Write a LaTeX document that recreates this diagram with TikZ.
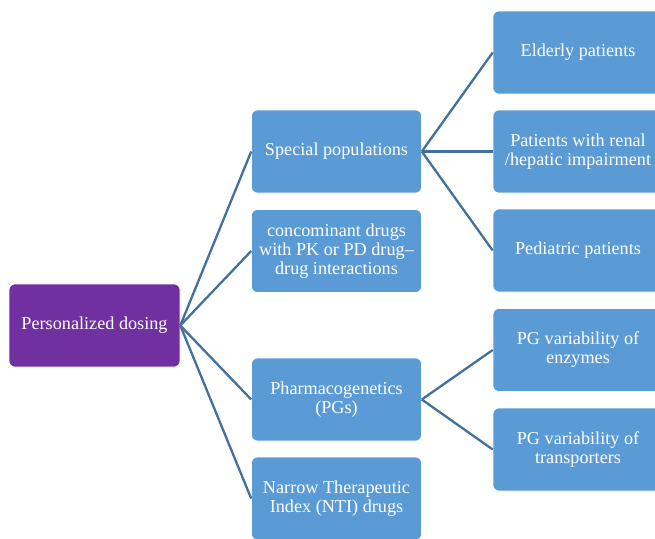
\documentclass[tikz,border=0pt]{standalone}
\usepackage{fontspec}
\setmainfont{Liberation Serif}
\definecolor{rootpurple}{HTML}{7030A0}
\definecolor{boxblue}{HTML}{5B9BD5}
\definecolor{linkblue}{HTML}{41719C}
\begin{document}
\begin{tikzpicture}[x=1pt,y=-1pt,
  box/.style={rectangle, rounded corners=6pt, fill=boxblue, draw=white, line width=0.6pt,
    minimum width=170pt, minimum height=83pt, text=white, align=center,
    font=\fontsize{18.2}{19}\selectfont, inner sep=1pt},
  rootbox/.style={box, fill=rootpurple, minimum width=171pt},
  conn/.style={draw=linkblue, line width=2.3pt}]
\clip (0,0) rectangle (655,538);
\fill[white] (0,0) rectangle (655,538);
\node[rootbox] (root) at (94.5,325.5) {Personalized dosing};
\node[box] (sp) at (336.5,151.5) {Special populations};
\node[box] (cd) at (336.5,251) {concominant drugs\\with PK or PD drug--\\drug interactions};
\node[box] (pg) at (336.5,399.5) {Pharmacogenetics\\(PGs)};
\node[box] (nti) at (336.5,498.5) {Narrow Therapeutic\\Index (NTI) drugs};
\node[box] (eld) at (578,52.5) {Elderly patients};
\node[box] (ren) at (578,151.5) {Patients with renal\\/hepatic impairment};
\node[box] (ped) at (578,250.5) {Pediatric patients};
\node[box] (enz) at (578,350) {PG variability of\\enzymes};
\node[box] (tra) at (578,449.5) {PG variability of\\transporters};
\draw[conn] (root.east) -- (sp.west);
\draw[conn] (root.east) -- (cd.west);
\draw[conn] (root.east) -- (pg.west);
\draw[conn] (root.east) -- (nti.west);
\draw[conn] (sp.east) -- (eld.west);
\draw[conn] (sp.east) -- (ren.west);
\draw[conn] (sp.east) -- (ped.west);
\draw[conn] (pg.east) -- (enz.west);
\draw[conn] (pg.east) -- (tra.west);
\end{tikzpicture}
\end{document}
